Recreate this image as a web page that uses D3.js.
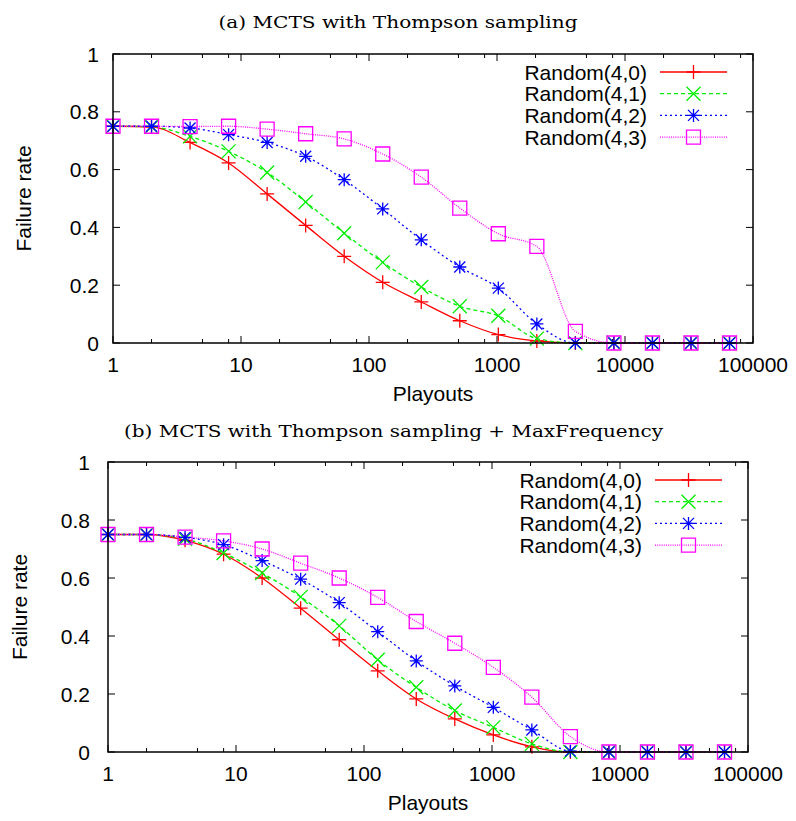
<!DOCTYPE html>
<html>
<head>
<meta charset="utf-8">
<script src="https://cdn.jsdelivr.net/npm/d3@7"></script>
<style>
  body { margin: 0; background: #fff; }
  svg { display: block; }
  text { fill: #000; }
</style>
</head>
<body>
<div id="chart"></div>
<script>
// playouts on the x axis (powers of two)
const playouts = [1, 2, 4, 8, 16, 32, 64, 128, 256, 512, 1024, 2048, 4096, 8192, 16384, 32768, 65536];
const seriesNames = ["Random(4,0)", "Random(4,1)", "Random(4,2)", "Random(4,3)"];
const xTickValues = [1, 10, 100, 1000, 10000, 100000];
const xMinorTicks = [2, 5, 8, 20, 50, 80, 200, 500, 800, 2000, 5000, 8000, 20000, 50000, 80000];
const yTickValues = [0, 0.2, 0.4, 0.6, 0.8, 1];

// (a) MCTS with Thompson sampling
const a40 = [0.75, 0.748, 0.694, 0.623, 0.516, 0.407, 0.30, 0.21, 0.142, 0.077, 0.029, 0.007, 0, 0, 0, 0, 0];
const a41 = [0.75, 0.748, 0.715, 0.663, 0.59, 0.488, 0.38, 0.279, 0.194, 0.127, 0.094, 0.015, 0, 0, 0, 0, 0];
const a42 = [0.75, 0.75, 0.744, 0.721, 0.694, 0.646, 0.565, 0.464, 0.357, 0.263, 0.19, 0.066, 0, 0, 0, 0, 0];
const a43 = [0.75, 0.75, 0.749, 0.75, 0.74, 0.724, 0.706, 0.654, 0.574, 0.467, 0.378, 0.334, 0.04, 0, 0, 0, 0];

// (b) MCTS with Thompson sampling + MaxFrequency
const b40 = [0.75, 0.75, 0.73, 0.682, 0.60, 0.496, 0.387, 0.28, 0.183, 0.114, 0.059, 0.018, 0, 0, 0, 0, 0];
const b41 = [0.75, 0.75, 0.735, 0.686, 0.617, 0.535, 0.435, 0.318, 0.223, 0.143, 0.085, 0.028, 0, 0, 0, 0, 0];
const b42 = [0.75, 0.75, 0.74, 0.715, 0.66, 0.596, 0.515, 0.415, 0.314, 0.228, 0.154, 0.076, 0.003, 0, 0, 0, 0];
const b43 = [0.75, 0.75, 0.741, 0.728, 0.70, 0.651, 0.60, 0.533, 0.45, 0.375, 0.292, 0.189, 0.053, 0, 0, 0, 0];

const colors = ["#ff0000", "#00ee00", "#0000ff", "#ff00ff"];
const dashes = [null, "4,3", "2,3", "1,1.2"];
const markers = ["plus", "cross", "star", "square"];

const W = 796, H = 821;
const sansFont = "'Liberation Sans', Arial, Helvetica, sans-serif";
const serifFont = "'DejaVu Serif', 'Liberation Serif', serif";

const svg = d3.select("#chart").append("svg")
    .attr("width", W)
    .attr("height", H);

function markerPath(type) {
  const p = d3.path();
  if (type === "plus") {
    p.moveTo(-7, 0); p.lineTo(7, 0);
    p.moveTo(0, -7); p.lineTo(0, 7);
  } else if (type === "cross") {
    p.moveTo(-7, -7); p.lineTo(7, 7);
    p.moveTo(-7, 7); p.lineTo(7, -7);
  } else if (type === "star") {
    p.moveTo(-6.5, 0); p.lineTo(6.5, 0);
    p.moveTo(0, -6.5); p.lineTo(0, 6.5);
    p.moveTo(-5.5, -5.5); p.lineTo(5.5, 5.5);
    p.moveTo(-5.5, 5.5); p.lineTo(5.5, -5.5);
  } else {
    p.rect(-7, -7, 14, 14);
  }
  return p.toString();
}

function drawPanel(cfg) {
  const {left, right, top, bottom, title, titleY, titleX, titleLen, series, yLabelX, yTickGap} = cfg;

  const x = d3.scaleLog().domain([1, 100000]).range([left, right]);
  const y = d3.scaleLinear().domain([0, 1]).range([bottom, top]);

  const g = svg.append("g");

  // title
  g.append("text")
    .attr("x", titleX)
    .attr("y", titleY)
    .attr("text-anchor", "middle")
    .attr("textLength", titleLen)
    .attr("lengthAdjust", "spacingAndGlyphs")
    .style("font-family", serifFont)
    .style("font-size", "17px")
    .text(title);

  // ticks (inside, mirrored)
  const ticks = g.append("g").attr("stroke", "#000").attr("stroke-width", 1);
  xTickValues.forEach(v => {
    ticks.append("line").attr("x1", x(v)).attr("x2", x(v)).attr("y1", bottom).attr("y2", bottom - 7);
    ticks.append("line").attr("x1", x(v)).attr("x2", x(v)).attr("y1", top).attr("y2", top + 7);
  });
  xMinorTicks.forEach(v => {
    ticks.append("line").attr("x1", x(v)).attr("x2", x(v)).attr("y1", bottom).attr("y2", bottom - 4);
    ticks.append("line").attr("x1", x(v)).attr("x2", x(v)).attr("y1", top).attr("y2", top + 4);
  });
  yTickValues.forEach(v => {
    ticks.append("line").attr("x1", left).attr("x2", left + 7).attr("y1", y(v)).attr("y2", y(v));
    ticks.append("line").attr("x1", right).attr("x2", right - 7).attr("y1", y(v)).attr("y2", y(v));
  });

  // tick labels
  g.selectAll(".xlab").data(xTickValues).join("text")
    .attr("x", d => x(d))
    .attr("y", bottom + 29)
    .attr("text-anchor", "middle")
    .style("font-family", sansFont)
    .style("font-size", "21px")
    .text(d => d);

  g.selectAll(".ylab").data(yTickValues).join("text")
    .attr("x", left - yTickGap)
    .attr("y", d => y(d))
    .attr("dy", "0.36em")
    .attr("text-anchor", "end")
    .style("font-family", sansFont)
    .style("font-size", "21px")
    .text(d => d);

  // axis titles
  g.append("text")
    .attr("x", (left + right) / 2)
    .attr("y", bottom + 58)
    .attr("text-anchor", "middle")
    .style("font-family", sansFont)
    .style("font-size", "21px")
    .text("Playouts");

  g.append("text")
    .attr("transform", `translate(${yLabelX}, ${(top + bottom) / 2}) rotate(-90)`)
    .attr("text-anchor", "middle")
    .style("font-family", sansFont)
    .style("font-size", "21px")
    .text("Failure rate");

  // curves
  const line = d3.line()
    .x(d => x(d[0]))
    .y(d => y(d[1]))
    .curve(d3.curveMonotoneX);

  series.forEach((vals, i) => {
    const pts = playouts.map((p, j) => [p, vals[j]]);
    g.append("path")
      .attr("d", line(pts))
      .attr("fill", "none")
      .attr("stroke", colors[i])
      .attr("stroke-width", 1.3)
      .attr("stroke-dasharray", dashes[i]);
  });

  series.forEach((vals, i) => {
    g.append("g").selectAll("path")
      .data(playouts.map((p, j) => [p, vals[j]]))
      .join("path")
      .attr("transform", d => `translate(${x(d[0])}, ${y(d[1])})`)
      .attr("d", markerPath(markers[i]))
      .attr("fill", "none")
      .attr("stroke", colors[i])
      .attr("stroke-width", 1.3);
  });

  // legend
  const leg = g.append("g");
  seriesNames.forEach((name, i) => {
    const ly = top + 18 + i * 21.7;
    leg.append("text")
      .attr("x", right - 106)
      .attr("y", ly)
      .attr("dy", "0.36em")
      .attr("text-anchor", "end")
      .style("font-family", sansFont)
      .style("font-size", "21px")
      .text(name);
    leg.append("line")
      .attr("x1", right - 93).attr("x2", right - 26)
      .attr("y1", ly).attr("y2", ly)
      .attr("stroke", colors[i])
      .attr("stroke-width", 1.3)
      .attr("stroke-dasharray", dashes[i]);
    leg.append("path")
      .attr("transform", `translate(${right - 59.5}, ${ly})`)
      .attr("d", markerPath(markers[i]))
      .attr("fill", "none")
      .attr("stroke", colors[i])
      .attr("stroke-width", 1.3);
  });

  // frame
  g.append("rect")
    .attr("x", left).attr("y", top)
    .attr("width", right - left).attr("height", bottom - top)
    .attr("fill", "none")
    .attr("stroke", "#000")
    .attr("stroke-width", 1.5);
}

drawPanel({
  left: 113, right: 753, top: 54, bottom: 343,
  title: "(a) MCTS with Thompson sampling", titleX: 398, titleY: 28, titleLen: 359,
  series: [a40, a41, a42, a43], yLabelX: 31, yTickGap: 14
});

drawPanel({
  left: 108, right: 748, top: 462, bottom: 752,
  title: "(b) MCTS with Thompson sampling + MaxFrequency", titleX: 393.5, titleY: 437, titleLen: 539,
  series: [b40, b41, b42, b43], yLabelX: 27, yTickGap: 18
});
</script>
</body>
</html>
